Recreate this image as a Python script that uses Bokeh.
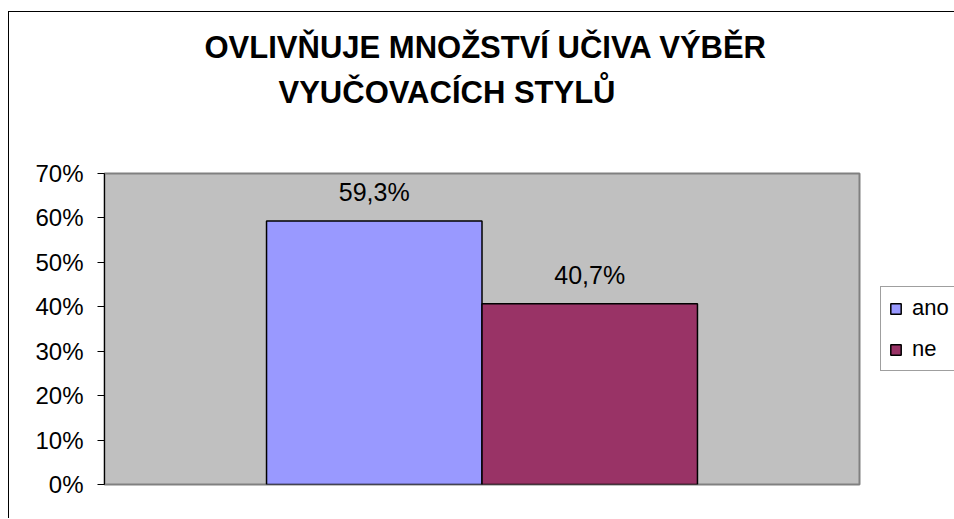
from bokeh.plotting import figure
from bokeh.models import (ColumnDataSource, Range1d, FixedTicker, NumeralTickFormatter,
                          LabelSet, Legend, LegendItem, Title)
from bokeh.core.properties import value, field
from bokeh.embed import file_html
from bokeh.resources import INLINE

# ---- data ----
series = ["ano", "ne"]
values = [0.593, 0.407]
colors = ["#9999FF", "#993366"]
title_lines = ["OVLIVŇUJE  MNOŽSTVÍ UČIVA VÝBĚR", "VYUČOVACÍCH STYLŮ"]
y_max = 0.7
y_step = 0.1

FONT = "Liberation Sans"

labels = [f"{v * 100:.1f}%".replace(".", ",") for v in values]
ticks = [round(i * y_step, 6) for i in range(int(round(y_max / y_step)) + 1)]
src = ColumnDataSource(dict(x=list(range(len(series))), top=values, series=series,
                            color=colors, label=labels))

p = figure(frame_width=755, frame_height=311, output_backend="svg", toolbar_location=None,
           x_range=Range1d(-1.252, len(series) - 1 + 0.5 + 0.752), y_range=Range1d(0, y_max),
           min_border_left=95, min_border_right=94, min_border_top=161, min_border_bottom=34,
           background_fill_color="#C0C0C0", border_fill_color="white",
           outline_line_color="#808080", outline_line_width=2,
           margin=(11, 0, 0, 8),
           styles={"border-top": "1px solid black", "border-left": "1px solid black"})

p.grid.visible = False
p.xaxis.visible = False

yax = p.yaxis[0]
yax.ticker = FixedTicker(ticks=ticks)
yax.formatter = NumeralTickFormatter(format="0%")
yax.axis_line_color = "black"
yax.major_tick_line_color = "black"
yax.major_tick_out = 7
yax.major_tick_in = 0
yax.minor_tick_line_color = None
yax.major_label_standoff = 14
yax.major_label_text_font = FONT
yax.major_label_text_font_size = "24px"
yax.major_label_text_color = "black"

r = p.vbar(x="x", top="top", width=1.0, bottom=0, source=src, fill_color="color",
           line_color="black", line_width=1.5)

p.add_layout(LabelSet(x="x", y="top", text="label", source=src, text_align="center",
                      text_baseline="alphabetic", y_offset=20, text_font=value(FONT),
                      text_font_size=value("25px"), text_color="black"))

leg = Legend(items=[LegendItem(label=field("series"), renderers=[r])])
leg.location = (21, 113)
leg.border_line_color = "#404040"
leg.border_line_width = 1
leg.background_fill_color = "white"
leg.padding = 8
leg.spacing = 15
leg.margin = 0
leg.glyph_width = 13
leg.glyph_height = 13
leg.label_height = 22
leg.label_standoff = 10
leg.label_text_font = FONT
leg.label_text_font_size = "22px"
leg.label_text_color = "black"
p.add_layout(leg, "right")

# spacer nearest the frame, then the two title lines (with a small gap between them)
p.add_layout(Title(text=" ", text_font_size="55px", standoff=0), "above")
p.add_layout(Title(text=title_lines[1], align="left", offset=174, text_font=FONT,
                   text_font_size="31px", text_font_style="bold", text_color="black",
                   standoff=0), "above")
p.add_layout(Title(text=" ", text_font_size="6px", standoff=0), "above")
p.add_layout(Title(text=title_lines[0], align="left", offset=100, text_font=FONT,
                   text_font_size="31px", text_font_style="bold", text_color="black",
                   standoff=0), "above")

open("out.html", "w").write(file_html(p, INLINE))
